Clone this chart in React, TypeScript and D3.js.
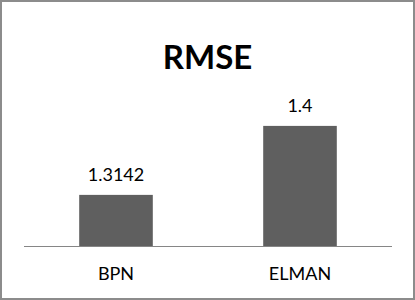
import React from 'react';
import * as d3 from 'd3';

const categories = ['BPN', 'ELMAN'];
const rmseValues = [1.3142, 1.4];
const valueLabels = ['1.3142', '1.4'];
const chartTitle = 'RMSE';

const W = 415;
const H = 300;

const App: React.FC = () => {
  const x = d3
    .scaleBand<string>()
    .domain(categories)
    .range([24, 392])
    .paddingInner(0.6)
    .paddingOuter(0.3);

  const y = d3.scaleLinear().domain([1.25, 1.45]).range([246.5, 85.7]);

  const font = 'Lato, "Open Sans", sans-serif';

  return (
    <svg
      width={W}
      height={H}
      style={{ position: 'absolute', left: 0, top: 0, background: '#fff' }}
    >
      <rect x={1} y={1} width={W - 2} height={H - 2} fill="#fff" stroke="#8c8c8c" strokeWidth={2} />
      <text
        x={W / 2}
        y={69}
        textAnchor="middle"
        fontFamily={font}
        fontWeight="bold"
        fontSize={33}
        fill="#000"
      >
        {chartTitle}
      </text>
      {categories.map((c, i) => (
        <g key={c}>
          <rect
            x={x(c)}
            y={y(rmseValues[i])}
            width={x.bandwidth()}
            height={y(1.25) - y(rmseValues[i])}
            fill="#5f5f5f"
          />
          <text
            x={x(c)! + x.bandwidth() / 2}
            y={y(rmseValues[i]) - 14}
            textAnchor="middle"
            fontFamily={font}
            fontSize={18}
            fill="#000"
          >
            {valueLabels[i]}
          </text>
          <text
            x={x(c)! + x.bandwidth() / 2}
            y={y(1.25) + 33.5}
            textAnchor="middle"
            fontFamily={font}
            fontSize={18}
            fill="#000"
          >
            {c}
          </text>
        </g>
      ))}
      <line x1={24} x2={392} y1={y(1.25)} y2={y(1.25)} stroke="#868686" strokeWidth={1} />
    </svg>
  );
};

export default App;
